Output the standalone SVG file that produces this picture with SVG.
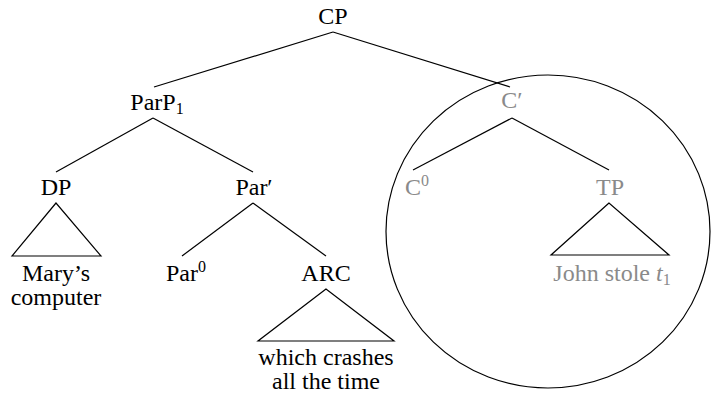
<svg xmlns="http://www.w3.org/2000/svg" width="713" height="399" viewBox="0 0 713 399">
<style>
text{font-family:'Liberation Serif','DejaVu Serif','Times New Roman',Times,serif;font-size:24px;text-anchor:middle;fill:#000}
.g{fill:#8a8a8a}
.sm{font-size:16px}
line,polygon,ellipse{stroke:#000;stroke-width:1.2;fill:none}
</style>
<rect width="713" height="399" fill="#fff"/>
<g id="connectors">
<line x1="333" y1="32" x2="154" y2="87"/>
<line x1="333" y1="32" x2="510" y2="87"/>
<line x1="153" y1="118" x2="56" y2="172"/>
<line x1="153" y1="118" x2="253" y2="172"/>
<line x1="253" y1="203" x2="182" y2="256"/>
<line x1="253" y1="203" x2="326" y2="256"/>
<line x1="512" y1="118" x2="413" y2="170"/>
<line x1="512" y1="118" x2="609" y2="170"/>
</g>
<g id="circle"><ellipse cx="548" cy="231.5" rx="162" ry="156.5"/></g>
<g id="CP"><text x="333" y="24">CP</text></g>
<g id="ParP1"><text x="157" y="110">ParP<tspan class="sm" dy="4">1</tspan></text></g>
<g id="DP"><text x="56" y="195">DP</text>
<polygon points="56,203 12,256 101,256"/>
<text x="56" y="281">Mary’s</text><text x="56" y="305">computer</text></g>
<g id="ParBar"><text x="254" y="195">Par′</text></g>
<g id="Par0"><text x="186" y="281">Par<tspan class="sm" dy="-9">0</tspan></text></g>
<g id="ARC"><text x="326" y="281">ARC</text>
<polygon points="326,289 258,341 394,341"/>
<text x="326" y="365">which crashes</text><text x="326" y="389">all the time</text></g>
<g id="CBar"><text class="g" x="512" y="108">C′</text></g>
<g id="C0"><text class="g" x="417" y="195">C<tspan class="sm" dy="-9">0</tspan></text></g>
<g id="TP"><text class="g" x="610" y="195">TP</text>
<polygon points="609,203 551,255 669,255"/>
<text class="g" x="612" y="281">John stole <tspan font-style="italic">t</tspan><tspan class="sm" dy="4">1</tspan></text></g>
</svg>
